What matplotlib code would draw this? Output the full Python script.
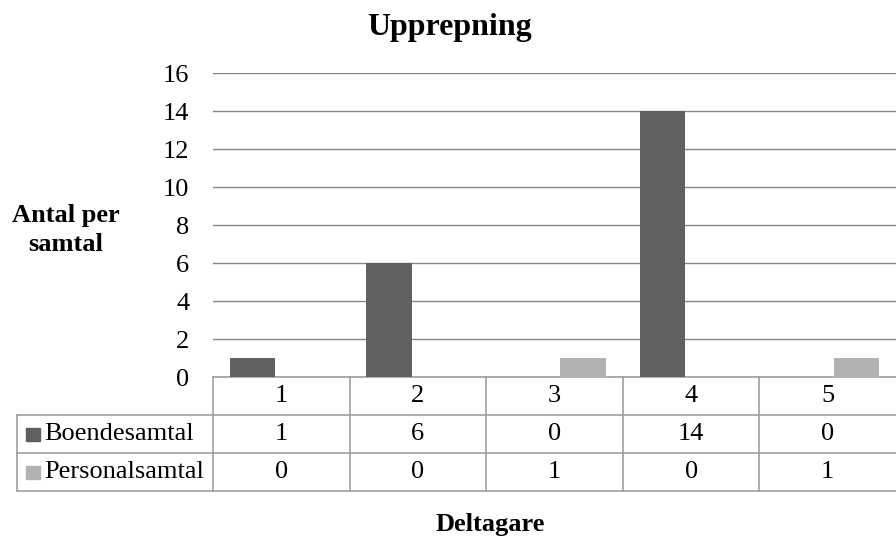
import matplotlib
matplotlib.use('Agg')
import matplotlib.pyplot as plt
import numpy as np

# data
deltagare = ['1', '2', '3', '4', '5']
boende = [1, 6, 0, 14, 0]
personal = [0, 0, 1, 0, 1]
series_names = ['Boendesamtal', 'Personalsamtal']
colors = ['#606060', '#b2b2b2']

plt.rcParams['font.family'] = ['Liberation Serif', 'DejaVu Serif']
fs = 19

fig = plt.figure(figsize=(8.96, 5.4), dpi=100)
ax = fig.add_axes([213 / 896, 1 - 377 / 540, 683 / 896, 304 / 540])

x = np.arange(len(deltagare))
w = 0.333
ax.bar(x - 0.21, boende, w, color=colors[0], zorder=3)
ax.bar(x + 0.21, personal, w, color=colors[1], zorder=3)

ax.set_xlim(-0.5, len(deltagare) - 0.5)
ax.set_ylim(0, 16)
ax.set_yticks(range(0, 17, 2))
ax.tick_params(axis='y', length=0, pad=17, labelsize=fs)
ax.set_xticks([])
ax.yaxis.grid(True, color='#868686', linewidth=1)
for s in ax.spines.values():
    s.set_visible(False)

# data table below the axes
line_kw = dict(color='#a0a0a0', linewidth=1.2, clip_on=False, transform=ax.transAxes)
row_h = 38 / 304
left = (17 - 213) / 683
rows = [0, -row_h, -2 * row_h, -3 * row_h]
ax.plot([0, 1], [rows[0], rows[0]], **line_kw)
for r in rows[1:]:
    ax.plot([left, 1], [r, r], **line_kw)
ax.plot([left, left], [rows[1], rows[3]], **line_kw)
ax.plot([0, 0], [rows[0], rows[3]], **line_kw)
for i in range(1, len(deltagare)):
    xa = i / len(deltagare)
    ax.plot([xa, xa], [rows[0], rows[3]], **line_kw)

tr = matplotlib.transforms.blended_transform_factory(ax.transData, ax.transAxes)
table_rows = [deltagare, boende, personal]
for r, vals in enumerate(table_rows):
    yc = -(r + 0.5) * row_h
    for i, v in enumerate(vals):
        ax.text(x[i], yc, str(v), transform=tr, ha='center', va='center', fontsize=fs)

for r, (name, c) in enumerate(zip(series_names, colors)):
    yc = -(r + 1.5) * row_h
    ax.add_patch(matplotlib.patches.Rectangle((left + 9 / 683, yc - 7 / 304), 14 / 683, 13 / 304,
                                              transform=ax.transAxes, color=c, clip_on=False))
    ax.text(left + 27 / 683, yc, name, transform=ax.transAxes, ha='left', va='center', fontsize=fs)

fig.text(450 / 896, 1 - 27 / 540, 'Upprepning', ha='center', va='center', fontsize=23, fontweight='bold')
fig.text(66 / 896, 1 - 230 / 540, 'Antal per\nsamtal', ha='center', va='center', fontsize=fs,
         fontweight='bold', linespacing=1.35)
fig.text(490 / 896, 1 - 525 / 540, 'Deltagare', ha='center', va='center', fontsize=fs, fontweight='bold')

fig.savefig('out.png', dpi=100)
